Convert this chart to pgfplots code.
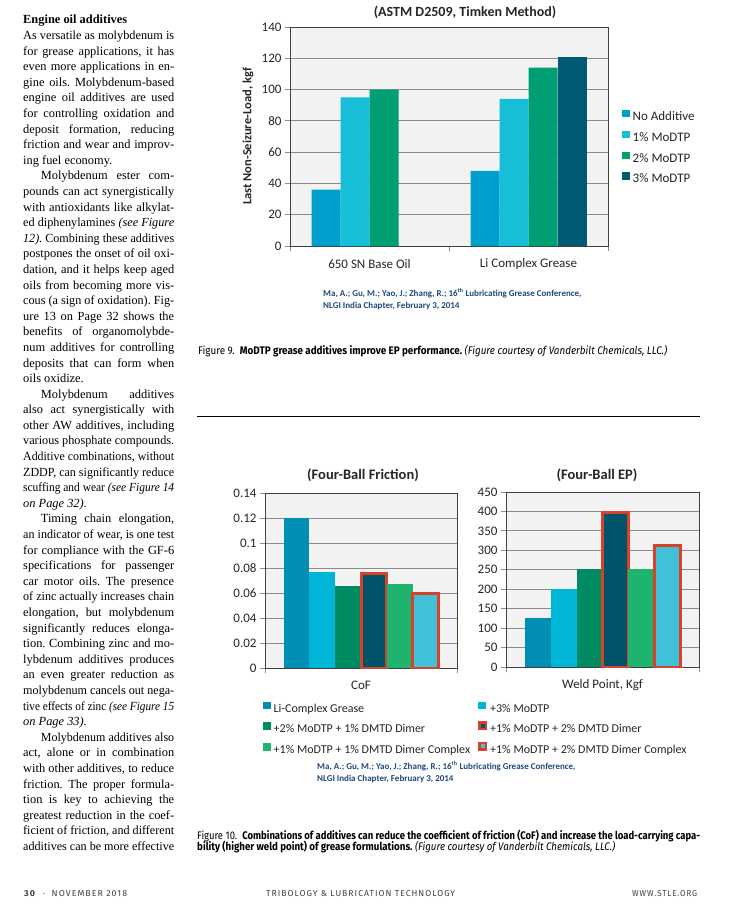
\documentclass[border=0pt]{standalone}
\usepackage{fontspec}
\setmainfont{Liberation Serif}
\newfontfamily\cf{Carlito}
\newfontfamily\capf{Fira Sans}
\newfontfamily\footf[LetterSpace=12]{Fira Sans}
\usepackage{graphicx}
\usepackage{pgfplots}
\pgfplotsset{compat=1.18}
\frenchspacing

\definecolor{bgc}{RGB}{242,242,242}
\definecolor{gridc}{RGB}{140,140,140}
\definecolor{citec}{RGB}{31,73,125}
\definecolor{redc}{RGB}{216,66,42}
% top chart
\definecolor{ca}{RGB}{0,160,206}
\definecolor{cb}{RGB}{23,190,216}
\definecolor{cc}{RGB}{0,158,115}
\definecolor{cd}{RGB}{0,90,116}
% bottom charts
\definecolor{ba}{RGB}{0,142,180}
\definecolor{bb}{RGB}{0,182,214}
\definecolor{bc}{RGB}{0,140,98}
\definecolor{bd}{RGB}{0,84,106}
\definecolor{be}{RGB}{30,180,110}
\definecolor{bf}{RGB}{64,193,215}

\newcommand\tickf{\cf\fontsize{13}{15}\selectfont}
\newcommand\tf{\fontsize{12.4}{14}\selectfont}

% one line of the text column: justified, squeezed if too long
\newsavebox\lnbox
\newcommand\fitJ[2]{\sbox\lnbox{\tf #2}\ifdim\wd\lnbox>#1\relax\resizebox{#1}{\height}{\usebox\lnbox}\else\makebox[#1][s]{\tf #2}\fi}
\newcommand\fitE[2]{\sbox\lnbox{\tf #2}\ifdim\wd\lnbox>#1\relax\resizebox{#1}{\height}{\usebox\lnbox}\else\usebox\lnbox\fi}
\newcommand\TJ[2]{\node[anchor=base west,inner sep=0pt] at (23pt,{-(39.5+#1*15.596)*1pt}) {\fitJ{151pt}{#2}};}
\newcommand\TI[2]{\node[anchor=base west,inner sep=0pt] at (40.7pt,{-(39.5+#1*15.596)*1pt}) {\fitJ{133.3pt}{#2}};}
\newcommand\TE[2]{\node[anchor=base west,inner sep=0pt] at (23pt,{-(39.5+#1*15.596)*1pt}) {\fitE{151pt}{#2}};}

\pgfplotsset{
  pagechart/.style={
    scale only axis, anchor=south west,
    ybar=0pt,
    axis background/.style={fill=bgc},
    axis line style={draw=black!75, line width=0.6pt},
    ymajorgrids, grid style={draw=gridc, line width=0.9pt},
    tick align=outside, tick pos=left, major tick length=5pt,
    tick style={draw=gridc, line width=0.8pt},
    tick label style={font=\tickf, text=black!85},
    /pgf/number format/assume math mode=true,
    ymin=0,
    legend image code/.code={\path[##1] (0pt,0pt) rectangle (7.5pt,7.5pt);},
    legend cell align=left,
  },
  boxed/.style={fill=#1, draw=redc, line width=3pt,
    legend image code/.code={\path[##1,line width=2.4pt] (1pt,1pt) rectangle (7.5pt,7.5pt);}},
}

\begin{document}
\begin{tikzpicture}
\fill[white] (0pt,0pt) rectangle (735pt,-904pt);

% ---------- text column ----------
\node[anchor=base west,inner sep=0pt] at (23pt,-23.5pt) {\fontsize{12.4}{14}\selectfont\bfseries Engine oil additives};
\TJ{0}{As versatile as molybdenum is}
\TJ{1}{for grease applications, it has}
\TJ{2}{even more applications in en-}
\TJ{3}{gine oils. Molybdenum-based}
\TJ{4}{engine oil additives are used}
\TJ{5}{for controlling oxidation and}
\TJ{6}{deposit formation, reducing}
\TJ{7}{friction and wear and improv-}
\TE{8}{ing fuel economy.}
\TI{9}{Molybdenum ester com-}
\TJ{10}{pounds can act synergistically}
\TJ{11}{with antioxidants like alkylat-}
\TJ{12}{ed diphenylamines {\itshape (see Figure}}
\TJ{13}{{\itshape 12).} Combining these additives}
\TJ{14}{postpones the onset of oil oxi-}
\TJ{15}{dation, and it helps keep aged}
\TJ{16}{oils from becoming more vis-}
\TJ{17}{cous (a sign of oxidation). Fig-}
\TJ{18}{ure 13 on Page 32 shows the}
\TJ{19}{benefits of organomolybde-}
\TJ{20}{num additives for controlling}
\TJ{21}{deposits that can form when}
\TE{22}{oils oxidize.}
\TI{23}{Molybdenum additives}
\TJ{24}{also act synergistically with}
\TJ{25}{other AW additives, including}
\TJ{26}{various phosphate compounds.}
\TJ{27}{Additive combinations, without}
\TJ{28}{ZDDP, can significantly reduce}
\TJ{29}{scuffing and wear {\itshape (see Figure 14}}
\TE{30}{{\itshape on Page 32).}}
\TI{31}{Timing chain elongation,}
\TJ{32}{an indicator of wear, is one test}
\TJ{33}{for compliance with the GF-6}
\TJ{34}{specifications for passenger}
\TJ{35}{car motor oils. The presence}
\TJ{36}{of zinc actually increases chain}
\TJ{37}{elongation, but molybdenum}
\TJ{38}{significantly reduces elonga-}
\TJ{39}{tion. Combining zinc and mo-}
\TJ{40}{lybdenum additives produces}
\TJ{41}{an even greater reduction as}
\TJ{42}{molybdenum cancels out nega-}
\TJ{43}{tive effects of zinc {\itshape (see Figure 15}}
\TE{44}{{\itshape on Page 33).}}
\TI{45}{Molybdenum additives also}
\TJ{46}{act, alone or in combination}
\TJ{47}{with other additives, to reduce}
\TJ{48}{friction. The proper formula-}
\TJ{49}{tion is key to achieving the}
\TJ{50}{greatest reduction in the coef-}
\TJ{51}{ficient of friction, and different}
\TJ{52}{additives can be more effective}

% ---------- Figure 9 ----------
\node[font=\cf\bfseries\fontsize{14}{16}\selectfont, text=black!85] at (465pt,-12pt) {(ASTM D2509, Timken Method)};
\begin{axis}[pagechart,
  at={(290pt,-246pt)}, width=318pt, height=219pt,
  xmin=-0.5, xmax=1.5, ymax=140,
  bar width=29pt,
  ytick={0,20,...,140},
  xtick={-0.5,0.5,1.5}, xticklabels={,,},
  extra x ticks={0,1}, extra x tick labels={650 SN Base Oil, Li Complex Grease},
  extra x tick style={major tick length=0pt, grid=none,
    xticklabel style={anchor=center, yshift=-18pt}},
  ylabel={Last Non-Seizure-Load, kgf},
  ylabel style={font=\cf\bfseries\fontsize{12.5}{14}\selectfont, text=black!85,
    at={(axis description cs:-0.132,0.5)}, anchor=center},
  legend style={draw=none, fill=none, font=\tickf, text=black!85,
    at={(axis description cs:1.044,0.622)}, anchor=north west,
    inner sep=0pt, row sep=6.3pt,
    nodes={inner sep=1pt, text height=9pt, text depth=3pt},
    /tikz/every odd column/.style={column sep=2pt}},
]
\addplot[fill=ca, draw=none] coordinates {(0,36) (1,48)};
\addplot[fill=cb, draw=none] coordinates {(0,95) (1,94)};
\addplot[fill=cc, draw=none] coordinates {(0,100) (1,114)};
\addplot[fill=cd, draw=none] coordinates {(1,121)};
\legend{No Additive, 1\% MoDTP, 2\% MoDTP, 3\% MoDTP}
\end{axis}
\node[anchor=west, align=left, inner sep=0pt, text=citec,
  font=\cf\bfseries\fontsize{9}{12}\selectfont] at (323pt,-299pt)
  {Ma, A.; Gu, M.; Yao, J.; Zhang, R.; 16\textsuperscript{th} Lubricating Grease Conference,\\NLGI India Chapter, February 3, 2014};
\node[anchor=base west, inner sep=0pt] at (198pt,-354pt)
  {\resizebox{469pt}{\height}{\capf\fontsize{11}{12}\selectfont Figure 9.\ \ \textbf{MoDTP grease additives improve EP performance.} \textit{(Figure courtesy of Vanderbilt Chemicals, LLC.)}}};

\draw[line width=0.8pt] (197pt,-416pt) -- (700pt,-416pt);

% ---------- Figure 10 ----------
\node[font=\cf\bfseries\fontsize{14.5}{16}\selectfont, text=black!85] at (363pt,-475pt) {(Four-Ball Friction)};
\node[font=\cf\bfseries\fontsize{14.5}{16}\selectfont, text=black!85] at (597pt,-475pt) {(Four-Ball EP)};
\begin{axis}[pagechart,
  at={(265pt,-668pt)}, width=192pt, height=175pt,
  xmin=-0.5, xmax=0.5, ymax=0.14,
  bar width=25.8pt,
  ytick={0,0.02,0.04,0.06,0.08,0.1,0.12,0.14},
  scaled y ticks=false,
  yticklabel style={/pgf/number format/fixed, /pgf/number format/precision=2},
  xtick={-0.5,0.5}, xticklabels={,},
  xlabel={CoF},
  xlabel style={font=\tickf, text=black!85, at={(axis description cs:0.5,-0.097)}, anchor=center},
  legend columns=2,
  legend style={draw=none, fill=none, font=\cf\fontsize{12}{14}\selectfont, text=black!85,
    at={(axis description cs:-0.0104,-0.191)}, anchor=north west,
    inner sep=0pt, row sep=5.5pt,
    nodes={inner sep=1pt, text height=8.5pt, text depth=2.5pt},
    /tikz/every odd column/.style={column sep=2pt},
    /tikz/column 2/.style={column sep=7pt}},
]
\addplot[fill=ba, draw=none] coordinates {(0,0.12)};
\addplot[fill=bb, draw=none] coordinates {(0,0.077)};
\addplot[fill=bc, draw=none] coordinates {(0,0.066)};
\addplot[boxed=bd] coordinates {(0,0.076)};
\addplot[fill=be, draw=none] coordinates {(0,0.067)};
\addplot[boxed=bf] coordinates {(0,0.06)};
\legend{Li-Complex Grease, +3\% MoDTP, +2\% MoDTP + 1\% DMTD Dimer, +1\% MoDTP + 2\% DMTD Dimer,
  +1\% MoDTP + 1\% DMTD Dimer Complex, +1\% MoDTP + 2\% DMTD Dimer Complex}
\end{axis}
\begin{axis}[pagechart,
  at={(506pt,-667pt)}, width=193pt, height=175pt,
  xmin=-0.5, xmax=0.5, ymax=450,
  bar width=25.9pt,
  ytick={0,50,...,450},
  xtick={-0.5,0.5}, xticklabels={,},
  xlabel={Weld Point, Kgf},
  xlabel style={font=\tickf, text=black!85, at={(axis description cs:0.5,-0.103)}, anchor=center},
]
\addplot[fill=ba, draw=none] coordinates {(0,126)};
\addplot[fill=bb, draw=none] coordinates {(0,200)};
\addplot[fill=bc, draw=none] coordinates {(0,251)};
\addplot[boxed=bd] coordinates {(0,398)};
\addplot[fill=be, draw=none] coordinates {(0,251)};
\addplot[boxed=bf] coordinates {(0,313)};
\end{axis}
\node[anchor=west, align=left, inner sep=0pt, text=citec,
  font=\cf\bfseries\fontsize{9}{12}\selectfont] at (317pt,-772pt)
  {Ma, A.; Gu, M.; Yao, J.; Zhang, R.; 16\textsuperscript{th} Lubricating Grease Conference,\\NLGI India Chapter, February 3, 2014};
\node[anchor=base west, inner sep=0pt] at (197pt,-839pt)
  {\resizebox{503pt}{\height}{\capf\fontsize{11}{12}\selectfont Figure 10.\ \ \textbf{Combinations of additives can reduce the coefficient of friction (CoF) and increase the load-carrying capa-}}};
\node[anchor=base west, inner sep=0pt] at (197pt,-850.5pt)
  {\resizebox{418pt}{\height}{\capf\fontsize{11}{12}\selectfont\textbf{bility (higher weld point) of grease formulations.} \textit{(Figure courtesy of Vanderbilt Chemicals, LLC.)}}};

% ---------- footer ----------
\node[anchor=base west, inner sep=0pt, text=black!75] at (24pt,-896pt)
  {\resizebox{103pt}{\height}{\footf\fontsize{8.6}{10}\selectfont\textbf{30}\ \ \textperiodcentered\ \ NOVEMBER 2018}};
\node[anchor=base west, inner sep=0pt, text=black!75] at (266pt,-896pt)
  {\resizebox{189pt}{\height}{\footf\fontsize{8.6}{10}\selectfont TRIBOLOGY \& LUBRICATION TECHNOLOGY}};
\node[anchor=base west, inner sep=0pt, text=black!75] at (632pt,-896pt)
  {\resizebox{65pt}{\height}{\footf\fontsize{8.6}{10}\selectfont WWW.STLE.ORG}};
\end{tikzpicture}
\end{document}
